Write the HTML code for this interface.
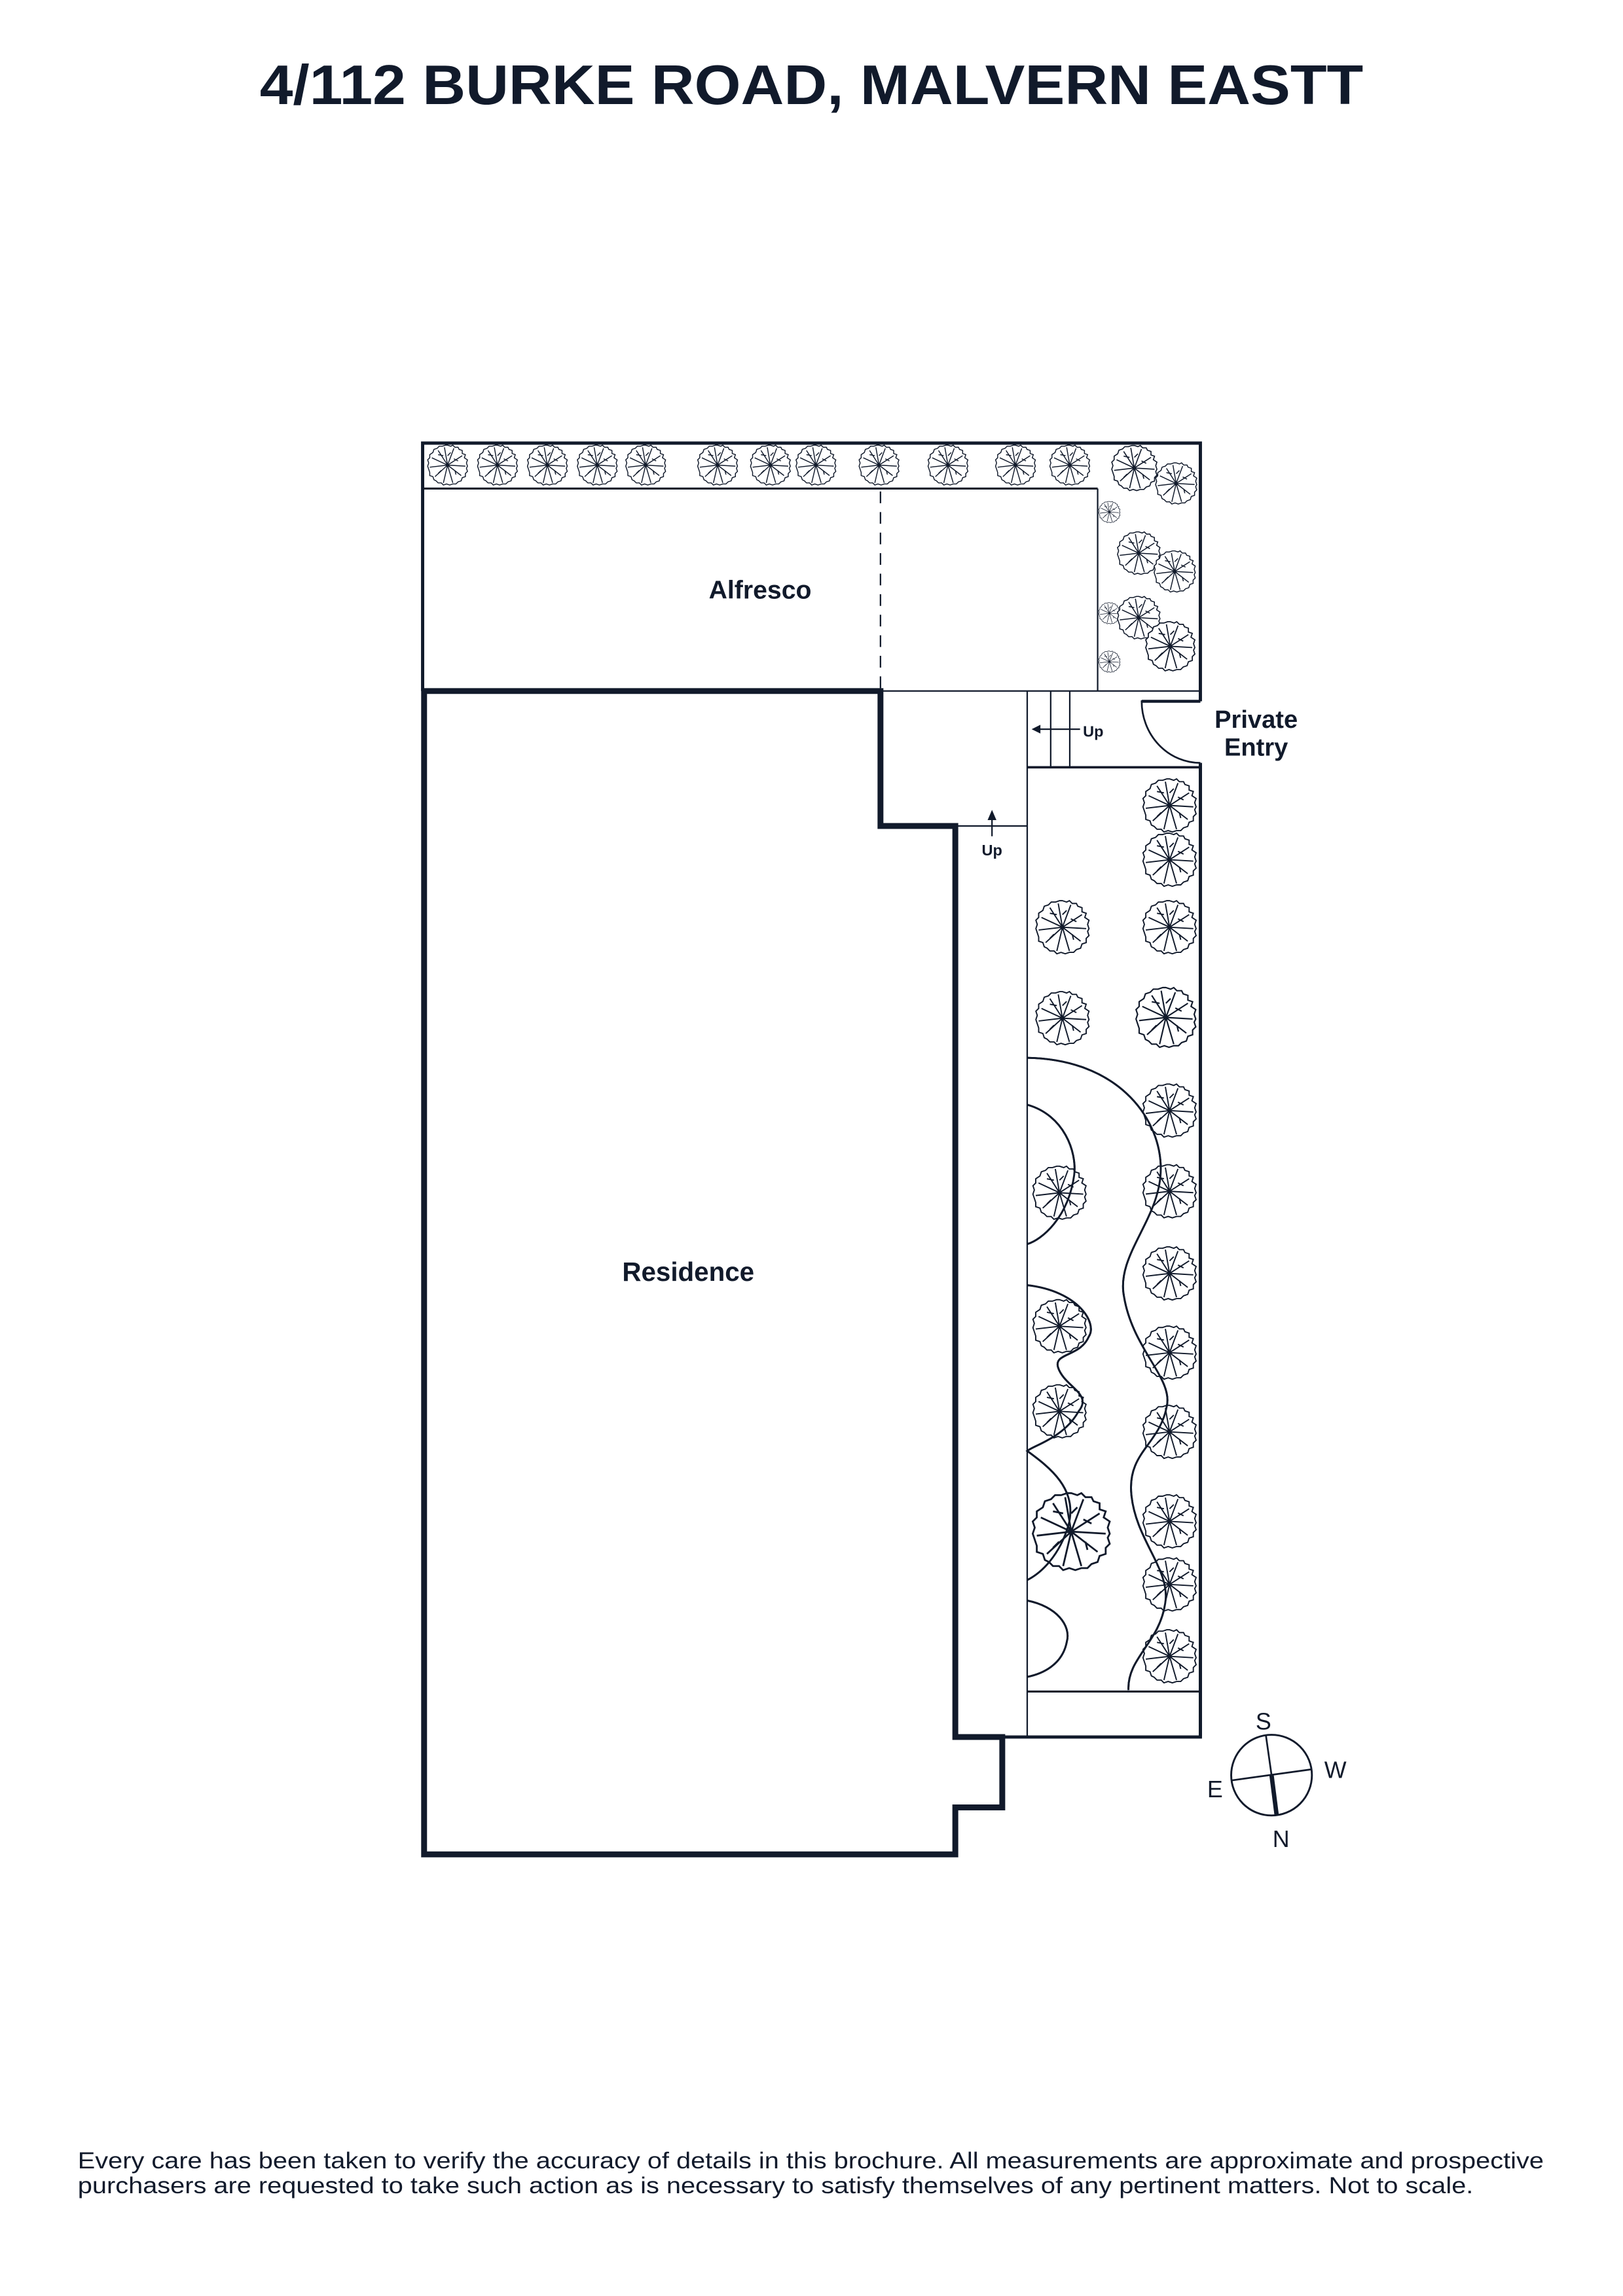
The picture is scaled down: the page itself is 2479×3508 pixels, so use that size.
<!DOCTYPE html>
<html><head><meta charset="utf-8"><style>
html,body{margin:0;padding:0;background:#fff}
svg{display:block}
text{font-family:"Liberation Sans",sans-serif;fill:#111a2b}
</style></head><body>
<svg width="2479" height="3508" viewBox="0 0 1106 1565" xmlns="http://www.w3.org/2000/svg">
<defs>
<symbol id="t" viewBox="-21 -21 42 42">
<path d="M0,-19 L3,-18 5,-19 7,-17 10,-17 11,-15 14,-14 14,-11 17,-10 16,-7 19,-5 18,-2 19,1 18,3 19,6 17,8 17,11 14,12 13,15 10,16 8,18 5,18 2,19 -1,18 -4,19 -6,17 -9,17 -11,15 -13,14 -14,11 -17,10 -17,7 -18,4 -19,1 -18,-2 -19,-5 -17,-7 -17,-10 -14,-12 -13,-15 -10,-16 -8,-18 -5,-18 -2,-19 Z" fill="#fff" stroke="#111a2b" stroke-width="0.9"/>
<g stroke="#111a2b" stroke-width="0.9" fill="none">
<path d="M0,0 L-3,-17 M0,0 L6,-16 M0,0 L14,-9 M0,0 L17,1 M0,0 L13,10 M0,0 L5,17 M0,0 L-4,17 M0,0 L-12,11 M0,0 L-17,2 M0,0 L-15,-7 M0,0 L-9,-14 M-4,-9 L-9,-10 M6,-6 L10,-4 M7,5 L8,9 M-6,5 L-9,8 M0,-9 L3,-12"/>
</g>
</symbol>
</defs>
<text x="553" y="71" font-size="38" font-weight="bold" text-anchor="middle" textLength="752" lengthAdjust="spacingAndGlyphs">4/112 BURKE ROAD, MALVERN EASTT</text>

<g stroke="#111a2b" fill="none">
<!-- outer top frame -->
<path d="M288,471 L288,302 L818,302 L818,478" stroke-width="2.2"/>
<path d="M818,520 L818,1184 L683,1184" stroke-width="2.2"/>
<line x1="288" y1="333" x2="748" y2="333" stroke-width="1.4"/>
<line x1="748" y1="333" x2="748" y2="471" stroke-width="1"/>
<line x1="600" y1="471" x2="818" y2="471" stroke-width="1"/>
<line x1="600" y1="335" x2="600" y2="471" stroke-width="1" stroke-dasharray="8,6"/>
<!-- residence -->
<path d="M289,471 L600,471 L600,563 L651,563 L651,1184 L683,1184 L683,1232 L651,1232 L651,1264 L289,1264 Z" stroke-width="4"/>
<!-- path between -->
<line x1="700" y1="471" x2="700" y2="1184" stroke-width="1"/>
<line x1="716" y1="471" x2="716" y2="523" stroke-width="1"/>
<line x1="729" y1="471" x2="729" y2="523" stroke-width="1"/>
<line x1="700" y1="523" x2="818" y2="523" stroke-width="1.6"/>
<line x1="651" y1="563" x2="700" y2="563" stroke-width="1"/>
<line x1="700" y1="1153" x2="818" y2="1153" stroke-width="1.4"/>
<!-- door -->
<path d="M818,478 L778,478 A40,42 0 0 0 818,520" stroke-width="1.2"/>
<line x1="778" y1="478" x2="818" y2="478" stroke-width="2"/>
<!-- arrows -->
<line x1="706" y1="497" x2="736" y2="497" stroke-width="1"/>
<line x1="676" y1="557" x2="676" y2="570" stroke-width="1"/>
<!-- curves -->
<path d="M700,721 C760,722 790,760 791,795 C792,830 760,855 766,884 C772,920 800,940 795,959 C790,985 768,990 771,1019 C774,1050 798,1070 794,1093 C790,1120 768,1130 769,1152" stroke-width="1.3"/>
<path d="M700,753 C725,760 734,785 732,801 C728,830 710,845 700,848" stroke-width="1.3"/>
<path d="M700,876 C735,880 748,902 742,911 C736,925 718,922 721,932 C725,945 745,950 735,962 C725,980 705,985 700,989 C715,1000 735,1015 728,1040 C722,1060 710,1072 700,1077" stroke-width="1.3"/>
<path d="M700,1091 C720,1095 730,1108 727,1119 C724,1135 710,1141 700,1143" stroke-width="1.3"/>
</g>
<path d="M703,497 L709,494 L709,500 Z" fill="#111a2b"/>
<path d="M676,552 L673,559 L679,559 Z" fill="#111a2b"/>

<!-- trees top row -->
<g>
<use href="#t" x="290" y="302" width="30" height="30"/>
<use href="#t" x="324" y="302" width="30" height="30"/>
<use href="#t" x="358" y="302" width="30" height="30"/>
<use href="#t" x="392" y="302" width="30" height="30"/>
<use href="#t" x="425" y="302" width="30" height="30"/>
<use href="#t" x="474" y="302" width="30" height="30"/>
<use href="#t" x="510" y="302" width="30" height="30"/>
<use href="#t" x="541" y="302" width="30" height="30"/>
<use href="#t" x="584" y="302" width="30" height="30"/>
<use href="#t" x="631" y="302" width="30" height="30"/>
<use href="#t" x="677" y="302" width="30" height="30"/>
<use href="#t" x="714" y="302" width="30" height="30"/>
<use href="#t" x="756" y="302" width="34" height="34"/>
<use href="#t" x="786" y="314" width="31" height="31"/>
<use href="#t" x="748" y="341" width="16" height="16"/>
<use href="#t" x="760" y="361" width="32" height="32"/>
<use href="#t" x="785" y="374" width="31" height="31"/>
<use href="#t" x="748" y="410" width="16" height="16"/>
<use href="#t" x="760" y="405" width="32" height="32"/>
<use href="#t" x="779" y="422" width="37" height="37"/>
<use href="#t" x="748" y="443" width="16" height="16"/>
<!-- garden -->
<use href="#t" x="777" y="529" width="40" height="40"/>
<use href="#t" x="777" y="566" width="40" height="40"/>
<use href="#t" x="777" y="612" width="40" height="40"/>
<use href="#t" x="704" y="612" width="40" height="40"/>
<use href="#t" x="704" y="674" width="40" height="40"/>
<use href="#t" x="772" y="671" width="45" height="45"/>
<use href="#t" x="777" y="737" width="40" height="40"/>
<use href="#t" x="702" y="793" width="40" height="40"/>
<use href="#t" x="777" y="792" width="40" height="40"/>
<use href="#t" x="777" y="848" width="40" height="40"/>
<use href="#t" x="702" y="884" width="40" height="40"/>
<use href="#t" x="777" y="902" width="40" height="40"/>
<use href="#t" x="702" y="942" width="40" height="40"/>
<use href="#t" x="777" y="956" width="40" height="40"/>
<use href="#t" x="777" y="1017" width="40" height="40"/>
<use href="#t" x="701" y="1015" width="58" height="58"/>
<use href="#t" x="777" y="1060" width="40" height="40"/>
<use href="#t" x="777" y="1109" width="40" height="40"/>
</g>
<!-- redraw curves above trees -->
<g stroke="#111a2b" fill="none" stroke-width="1.3">
<path d="M700,721 C760,722 790,760 791,795 C792,830 760,855 766,884 C772,920 800,940 795,959 C790,985 768,990 771,1019 C774,1050 798,1070 794,1093 C790,1120 768,1130 769,1152"/>
<path d="M700,753 C725,760 734,785 732,801 C728,830 710,845 700,848"/>
<path d="M700,876 C735,880 748,902 742,911 C736,925 718,922 721,932 C725,945 745,950 735,962 C725,980 705,985 700,989 C715,1000 735,1015 728,1040 C722,1060 710,1072 700,1077"/>
<path d="M700,1091 C720,1095 730,1108 727,1119 C724,1135 710,1141 700,1143"/>
</g>
<line x1="818" y1="520" x2="818" y2="1184" stroke="#111a2b" stroke-width="2.2"/>

<text x="518" y="408" font-size="17.5" font-weight="bold" text-anchor="middle">Alfresco</text>
<text x="469" y="873" font-size="18" font-weight="bold" text-anchor="middle">Residence</text>
<text x="856" y="496" font-size="17" font-weight="bold" text-anchor="middle">Private</text>
<text x="856" y="515" font-size="17" font-weight="bold" text-anchor="middle">Entry</text>
<text x="745" y="502" font-size="10.5" font-weight="bold" text-anchor="middle">Up</text>
<text x="676" y="583" font-size="10.5" font-weight="bold" text-anchor="middle">Up</text>

<!-- compass -->
<circle cx="866.5" cy="1210" r="27.5" fill="none" stroke="#111a2b" stroke-width="1.3"/>
<line x1="862.6" y1="1182.5" x2="866.5" y2="1210" stroke="#111a2b" stroke-width="1.2"/>
<line x1="866.5" y1="1210" x2="870" y2="1237.5" stroke="#111a2b" stroke-width="3"/>
<line x1="839" y1="1213.6" x2="894" y2="1206" stroke="#111a2b" stroke-width="1.2"/>
<text x="861" y="1179" font-size="16" text-anchor="middle">S</text>
<text x="910" y="1212" font-size="16" text-anchor="middle">W</text>
<text x="828" y="1225" font-size="16" text-anchor="middle">E</text>
<text x="873" y="1259" font-size="16" text-anchor="middle">N</text>

<text x="53" y="1478" font-size="15.5" textLength="999" lengthAdjust="spacingAndGlyphs">Every care has been taken to verify the accuracy of details in this brochure. All measurements are approximate and prospective</text>
<text x="53" y="1495" font-size="15.5" textLength="951" lengthAdjust="spacingAndGlyphs">purchasers are requested to take such action as is necessary to satisfy themselves of any pertinent matters. Not to scale.</text>
</svg>
</body></html>
